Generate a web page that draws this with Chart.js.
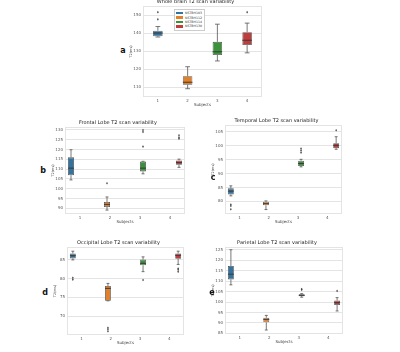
<!DOCTYPE html>
<html>
<head>
<meta charset="utf-8">
<script src="https://cdn.jsdelivr.net/npm/chart.js@4.4.0/dist/chart.umd.min.js"></script>
<style>
    body { margin: 0; width: 400px; height: 352px; background: #fff; position: relative; overflow: hidden; font-family: 'DejaVu Sans', sans-serif; }
    canvas { position: absolute; }
    .tag { position: absolute; font: bold 8px 'DejaVu Sans', sans-serif; color: #111; transform: translate(-50%, -50%); }
    #legend { position: absolute; left: 174px; top: 9px; width: 27px; padding: 1px 1px; border: 0.5px solid #ccc; background: #fff; font: 3.2px 'DejaVu Sans', sans-serif; color: #333; }
    #legend .row { display: flex; align-items: center; height: 4.4px; }
    #legend .sw { width: 7px; height: 2.4px; margin-right: 2px; }
</style>
</head>
<body>
<div id="legend"></div>
<script>
/* ========================================
   T2 scan variability - five box plot panels
   ======================================== */

const subjects = ['NSTBH103', 'NSTBH112', 'NSTBH114', 'NSTBH130'];
const xLabels = ['1', '2', '3', '4'];
const palette = ['#3274a1', '#e1812c', '#3a923a', '#c03d3e'];
const lineGray = '#555555';
const gridGray = '#e4e4e4';

// a - whole brain
const wholeTicks = [110, 120, 130, 140, 150];
const wholeLo  = [137.8, 109.1, 124.5, 129.0];
const wholeQ1  = [138.2, 111.3, 127.8, 133.3];
const wholeMed = [140.0, 112.7, 129.6, 136.0];
const wholeQ3  = [141.3, 116.0, 135.1, 140.5];
const wholeHi  = [143.6, 121.3, 144.9, 145.5];
const wholeOut = [[151.6, 147.6], [], [], [151.6]];

// b - frontal lobe
const frontalTicks = [90, 95, 100, 105, 110, 115, 120, 125, 130];
const frontalLo  = [104.5, 89.1, 107.6, 110.9];
const frontalQ1  = [106.9, 90.7, 108.8, 112.2];
const frontalMed = [110.5, 92.0, 110.5, 113.4];
const frontalQ3  = [116.0, 93.2, 113.9, 114.4];
const frontalHi  = [119.9, 95.8, 114.0, 115.1];
const frontalOut = [[], [102.8], [130.0, 129.0, 121.5], [127.3, 126.2, 125.5]];

// c - temporal lobe
const temporalTicks = [80, 85, 90, 95, 100, 105];
const temporalLo  = [82.0, 77.1, 92.4, 98.7];
const temporalQ1  = [82.5, 78.6, 92.7, 99.1];
const temporalMed = [83.7, 79.2, 93.6, 100.1];
const temporalQ3  = [84.7, 79.9, 94.6, 100.9];
const temporalHi  = [85.6, 80.2, 95.1, 103.2];
const temporalOut = [[78.9, 78.4, 77.2], [], [99.0, 98.3, 97.5], [105.5]];

// d - occipital lobe
const occipitalTicks = [70, 75, 80, 85];
const occipitalLo  = [84.9, 74.1, 81.8, 83.7];
const occipitalQ1  = [85.3, 74.1, 83.5, 85.2];
const occipitalMed = [86.0, 77.4, 84.0, 86.1];
const occipitalQ3  = [86.6, 78.0, 85.0, 86.6];
const occipitalHi  = [87.2, 78.7, 85.7, 87.2];
const occipitalOut = [[80.2, 79.7], [67.0, 66.6, 66.1], [79.6], [82.6, 82.3, 81.8]];

// e - parietal lobe
const parietalTicks = [85, 90, 95, 100, 105, 110, 115, 120, 125];
const parietalLo  = [108.2, 86.6, 102.3, 95.7];
const parietalQ1  = [110.8, 90.3, 102.8, 98.6];
const parietalMed = [113.3, 91.7, 103.2, 99.7];
const parietalQ3  = [117.2, 92.5, 103.7, 100.7];
const parietalHi  = [125.0, 93.6, 104.0, 102.1];
const parietalOut = [[], [], [105.8, 106.2], [105.3]];

// whiskers, medians, fliers and plot frame
const boxPlugin = {
    id: 'boxExtras',
    beforeDatasetsDraw(chart) {
        const a = chart.chartArea;
        const ctx = chart.ctx;
        ctx.save();
        ctx.strokeStyle = gridGray;
        ctx.lineWidth = 1;
        ctx.strokeRect(a.left + 0.5, a.top + 0.5, a.right - a.left - 1, a.bottom - a.top - 1);
        ctx.restore();
    },
    afterDatasetsDraw(chart) {
        const ctx = chart.ctx;
        const y = chart.scales.y;
        ctx.save();
        chart.data.datasets.forEach((ds, i) => {
            const el = chart.getDatasetMeta(i).data[i];
            if (!el) return;
            const b = ds.box;
            const x = el.x, w = el.width;
            ctx.strokeStyle = lineGray;
            ctx.lineWidth = 0.8;
            ctx.beginPath();
            ctx.moveTo(x, y.getPixelForValue(ds.data[i][1]));
            ctx.lineTo(x, y.getPixelForValue(b.hi));
            ctx.moveTo(x, y.getPixelForValue(ds.data[i][0]));
            ctx.lineTo(x, y.getPixelForValue(b.lo));
            ctx.moveTo(x - w / 4, y.getPixelForValue(b.hi));
            ctx.lineTo(x + w / 4, y.getPixelForValue(b.hi));
            ctx.moveTo(x - w / 4, y.getPixelForValue(b.lo));
            ctx.lineTo(x + w / 4, y.getPixelForValue(b.lo));
            ctx.stroke();
            ctx.lineWidth = 1;
            ctx.strokeStyle = '#3a3a3a';
            ctx.beginPath();
            ctx.moveTo(x - w / 2, y.getPixelForValue(b.med));
            ctx.lineTo(x + w / 2, y.getPixelForValue(b.med));
            ctx.stroke();
            ctx.fillStyle = '#444';
            b.fliers.forEach(v => {
                const py = y.getPixelForValue(v);
                ctx.beginPath();
                ctx.moveTo(x, py - 1.3);
                ctx.lineTo(x + 0.9, py);
                ctx.lineTo(x, py + 1.3);
                ctx.lineTo(x - 0.9, py);
                ctx.closePath();
                ctx.fill();
            });
        });
        ctx.restore();
    }
};

function makePanel(area, title, ticks, range, lo, q1, med, q3, hi, out, grouped) {
    const padL = 14, padT = 8, padB = 10, padR = 3;
    const canvas = document.createElement('canvas');
    canvas.width = area.w + padL + padR;
    canvas.height = area.h + padT + padB;
    canvas.style.left = (area.l - padL) + 'px';
    canvas.style.top = (area.t - padT) + 'px';
    document.body.appendChild(canvas);

    const datasets = subjects.map((s, i) => ({
        label: s,
        data: xLabels.map((_, j) => j === i ? [q1[i], q3[i]] : null),
        backgroundColor: palette[i],
        borderColor: lineGray,
        borderWidth: 0.8,
        borderSkipped: false,
        grouped: grouped,
        barPercentage: grouped ? 1 : 0.32,
        categoryPercentage: grouped ? 0.8 : 1,
        box: { lo: lo[i], med: med[i], hi: hi[i], fliers: out[i] }
    }));

    new Chart(canvas, {
        type: 'bar',
        data: { labels: xLabels, datasets: datasets },
        options: {
            responsive: false,
            animation: false,
            devicePixelRatio: 1,
            layout: { padding: { left: 0, right: padR, top: 0, bottom: 0 } },
            plugins: {
                legend: { display: false },
                tooltip: { enabled: false },
                title: {
                    display: true,
                    text: title,
                    color: '#222',
                    font: { family: 'DejaVu Sans', size: 5, weight: 'normal', lineHeight: 1.2 },
                    padding: { top: 1, bottom: 1 }
                }
            },
            scales: {
                x: {
                    grid: { display: false, drawTicks: false },
                    border: { display: false },
                    ticks: { color: '#555', font: { family: 'DejaVu Sans', size: 4 }, padding: 2 },
                    title: { display: true, text: 'Subjects', color: '#444', font: { family: 'DejaVu Sans', size: 4 }, padding: { top: 0, bottom: 0 } },
                    afterFit: scale => { scale.height = padB; }
                },
                y: {
                    min: range[0],
                    max: range[1],
                    grid: { color: gridGray, lineWidth: 1, drawTicks: false },
                    border: { display: false },
                    ticks: { color: '#555', font: { family: 'DejaVu Sans', size: 4 }, padding: 2 },
                    afterBuildTicks: scale => { scale.ticks = ticks.map(v => ({ value: v })); },
                    title: { display: true, text: 'T2(ms)', color: '#444', font: { family: 'DejaVu Sans', size: 3.5 }, padding: 0 },
                    afterFit: scale => { scale.width = padL; }
                }
            }
        },
        plugins: [boxPlugin]
    });
}

function addTag(letter, x, y) {
    const d = document.createElement('div');
    d.className = 'tag';
    d.textContent = letter;
    d.style.left = x + 'px';
    d.style.top = y + 'px';
    document.body.appendChild(d);
}

makePanel({ l: 143, t: 6, w: 119, h: 91 }, 'Whole brain T2 scan variability', wholeTicks, [104.5, 155],
    wholeLo, wholeQ1, wholeMed, wholeQ3, wholeHi, wholeOut, false);
makePanel({ l: 65, t: 127, w: 120, h: 87 }, 'Frontal Lobe T2 scan variability', frontalTicks, [87.1, 131.5],
    frontalLo, frontalQ1, frontalMed, frontalQ3, frontalHi, frontalOut, true);
makePanel({ l: 225, t: 125, w: 117, h: 89 }, 'Temporal Lobe T2 scan variability', temporalTicks, [75.5, 107.4],
    temporalLo, temporalQ1, temporalMed, temporalQ3, temporalHi, temporalOut, true);
makePanel({ l: 67, t: 247, w: 117, h: 88 }, 'Occipital Lobe T2 scan variability', occipitalTicks, [65.1, 88.3],
    occipitalLo, occipitalQ1, occipitalMed, occipitalQ3, occipitalHi, occipitalOut, true);
makePanel({ l: 225, t: 247, w: 118, h: 87 }, 'Parietal Lobe T2 scan variability', parietalTicks, [84.7, 126.3],
    parietalLo, parietalQ1, parietalMed, parietalQ3, parietalHi, parietalOut, true);

addTag('a', 123, 50);
addTag('b', 43, 170);
addTag('c', 213, 177);
addTag('d', 45, 292);
addTag('e', 212, 292);

// legend of panel a
const legend = document.getElementById('legend');
subjects.forEach((s, i) => {
    const row = document.createElement('div');
    row.className = 'row';
    row.innerHTML = `<span class="sw" style="background:${palette[i]}"></span><span>${s}</span>`;
    legend.appendChild(row);
});
document.body.appendChild(legend);
</script>
</body>
</html>
